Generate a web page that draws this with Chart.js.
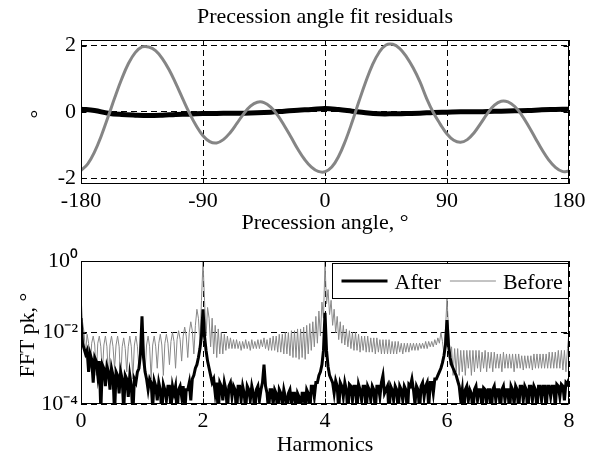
<!DOCTYPE html>
<html>
<head>
<meta charset="utf-8">
<script src="https://cdn.jsdelivr.net/npm/chart.js@4.4.0/dist/chart.umd.min.js"></script>
<style>
  html, body { margin: 0; padding: 0; background: #fff; }
  #fig { position: relative; width: 597px; height: 460px; background: #fff; overflow: hidden;
         font-family: 'Liberation Serif', 'Times New Roman', serif; font-size: 22px; color: #000; }
  #fig canvas { position: absolute; left: 0; }
  .lbl { position: absolute; line-height: 22px; white-space: nowrap; transform: translateX(-50%); }
  .vlbl { position: absolute; line-height: 22px; white-space: nowrap; transform: translate(-50%, -50%) rotate(-90deg); }
</style>
</head>
<body>
<div id="fig">
  <canvas id="resid" width="597" height="215" style="top:0"></canvas>
  <canvas id="fft" width="597" height="200" style="top:235px"></canvas>
  <div class="lbl" style="left:325px;top:5px">Precession angle fit residuals</div>
  <div class="lbl" style="left:325px;top:211px">Precession angle, °</div>
  <div class="vlbl" style="left:38px;top:114px">°</div>
  <div class="lbl" style="left:325px;top:433px">Harmonics</div>
  <div class="vlbl" style="left:27px;top:335px">FFT pk, °</div>
</div>
<script>
// ---- top panel: residuals vs precession angle (deg) ----
const angleFine = [-180,-175,-170,-165,-160,-155,-150,-145,-140,-135,-130,-125,-120,-115,-110,-105,-100,-95,-90,-85,
  -80,-75,-70,-65,-60,-55,-50,-45,-40,-35,-30,-25,-20,-15,-10,-5,0,5,10,15,20,25,30,35,40,45,50,55,60,65,
  70,75,80,85,90,95,100,105,110,115,120,125,130,135,140,145,150,155,160,165,170,175,180];
const residBefore = [-1.77,-1.57,-1.21,-0.72,-0.15,0.44,0.99,1.46,1.79,1.96,
  1.96,1.85,1.61,1.27,0.85,0.40,-0.04,-0.42,-0.72,-0.90,
  -0.94,-0.84,-0.63,-0.35,-0.06,0.17,0.29,0.28,0.14,-0.10,
  -0.42,-0.77,-1.13,-1.44,-1.67,-1.80,-1.81,-1.67,-1.35,-0.88,
  -0.31,0.31,0.90,1.42,1.80,2.02,2.04,1.92,1.67,1.33,
  0.91,0.40,-0.03,-0.37,-0.67,-0.86,-0.92,-0.84,-0.63,-0.34,
  -0.04,0.20,0.32,0.30,0.16,-0.09,-0.42,-0.78,-1.14,-1.45,
  -1.68,-1.80,-1.79];
const angleCoarse = [-180,-170,-160,-150,-140,-130,-120,-110,-100,-90,-80,-70,-60,-50,-40,-30,-20,-10,0,
  10,20,30,40,50,60,70,80,90,100,110,120,130,140,150,160,170,180];
const residAfter = [0.08,0.04,-0.04,-0.08,-0.10,-0.11,-0.10,-0.08,-0.07,-0.05,
  -0.05,-0.04,-0.04,-0.03,-0.01,0.02,0.05,0.07,0.10,0.07,
  0.02,-0.03,-0.06,-0.06,-0.05,-0.04,-0.02,-0.01,0.00,0.00,
  0.01,0.02,0.03,0.04,0.06,0.07,0.08];
const residXTicks = [-180, -90, 0, 90, 180];
const residYTicks = [-2, 0, 2];

// ---- bottom panel: FFT peak amplitude, log10 values, one per bin ----
const BIN = 0.025; // harmonic spacing of FFT bins
const fftBeforeLog = [
  -1.0,-1.7,-2.0,-2.6,-2.05,-2.3,-3.0,-2.3,-2.1,-2.35,-3.2,-2.3,-2.1,-2.4,-3.1,-2.35,-2.1,-2.4,-3.3,-2.35,
  -2.1,-2.4,-3.0,-2.35,-2.1,-2.4,-3.4,-2.4,-2.15,-2.45,-3.1,-2.4,-2.1,-2.4,-3.3,-2.35,-2.1,-2.4,-3.0,-2.3,
  -2.0,-2.35,-3.1,-2.35,-2.1,-2.4,-3.3,-2.35,-2.1,-2.4,-3.0,-2.3,-2.05,-2.35,-3.2,-2.3,-2.05,-2.3,-2.9,-2.25,
  -2.0,-2.25,-3.0,-2.2,-1.95,-2.2,-2.8,-2.1,-1.85,-2.1,-2.7,-2.0,-1.7,-1.95,-2.6,-1.8,-1.35,-1.6,-2.3,-1.1,
  0.0,-1.1,-2.1,-1.3,-1.6,-2.4,-1.6,-2.6,-1.8,-2.7,-1.9,-2.6,-2.0,-2.6,-2.05,-2.5,-2.1,-2.45,-2.15,-2.45,
  -2.2,-2.45,-2.2,-2.45,-2.25,-2.5,-2.25,-2.45,-2.2,-2.45,-2.25,-2.5,-2.2,-2.45,-2.25,-2.45,-2.2,-2.45,-2.2,-2.4,
  -2.15,-2.45,-2.2,-2.5,-2.15,-2.5,-2.1,-2.5,-2.1,-2.55,-2.05,-2.55,-2.05,-2.6,-2.0,-2.6,-2.0,-2.65,-1.95,-2.7,
  -1.95,-2.7,-1.9,-2.75,-1.9,-2.7,-1.85,-2.75,-1.8,-2.6,-1.75,-2.5,-1.7,-2.4,-1.55,-2.3,-1.4,-2.1,-1.15,-1.6,
  -0.03,-1.2,-0.8,-1.5,-1.1,-1.8,-1.35,-2.0,-1.55,-2.2,-1.7,-2.3,-1.8,-2.35,-1.9,-2.4,-1.95,-2.45,-2.0,-2.5,
  -2.0,-2.5,-2.05,-2.55,-2.1,-2.5,-2.1,-2.55,-2.1,-2.55,-2.15,-2.55,-2.15,-2.6,-2.15,-2.55,-2.2,-2.6,-2.2,-2.6,
  -2.2,-2.6,-2.2,-2.6,-2.25,-2.6,-2.25,-2.6,-2.25,-2.55,-2.3,-2.6,-2.3,-2.55,-2.3,-2.55,-2.3,-2.5,-2.3,-2.5,
  -2.3,-2.5,-2.3,-2.45,-2.3,-2.45,-2.25,-2.45,-2.25,-2.4,-2.25,-2.4,-2.2,-2.35,-2.15,-2.3,-2.0,-2.25,-2.6,-1.9,
  -1.05,-1.9,-2.9,-2.4,-3.2,-2.45,-3.1,-2.45,-3.2,-2.5,-3.1,-2.5,-3.2,-2.5,-3.0,-2.5,-3.2,-2.5,-3.1,-2.5,
  -3.0,-2.5,-3.1,-2.55,-3.0,-2.5,-3.1,-2.55,-3.0,-2.55,-3.1,-2.55,-3.0,-2.6,-3.0,-2.6,-3.1,-2.55,-3.0,-2.6,
  -3.0,-2.6,-3.0,-2.6,-3.1,-2.6,-3.0,-2.6,-3.0,-2.65,-3.05,-2.65,-3.0,-2.65,-3.0,-2.65,-3.05,-2.6,-3.0,-2.6,
  -3.0,-2.6,-3.0,-2.6,-3.0,-2.6,-3.0,-2.55,-3.0,-2.55,-3.0,-2.55,-3.0,-2.5,-3.0,-2.5,-3.05,-2.5,-3.1,-2.45,
  -2.0];
const fftAfterLog = [
  -1.6,-2.3,-2.45,-2.6,-2.5,-3.1,-2.6,-2.75,-3.4,-2.7,-2.8,-3.2,-2.8,-4.2,-2.9,-3.0,-3.5,-2.95,-3.1,-3.6,
  -3.0,-3.2,-4.3,-3.1,-3.2,-3.7,-3.1,-3.3,-4.2,-3.2,-3.3,-3.8,-3.2,-3.5,-4.3,-3.3,-3.4,-3.1,-3.0,-2.6,
  -1.55,-2.7,-3.1,-3.3,-3.6,-3.3,-3.4,-4.1,-3.35,-3.5,-3.9,-3.4,-3.6,-4.3,-3.45,-3.6,-3.9,-3.5,-3.5,-4.2,
  -3.5,-3.7,-3.5,-4.3,-3.6,-3.5,-3.8,-3.5,-4.3,-3.6,-3.6,-3.4,-3.9,-3.3,-3.2,-3.0,-2.9,-2.7,-2.45,-2.1,
  -1.35,-2.1,-2.5,-2.8,-3.0,-3.2,-3.4,-3.3,-3.7,-3.4,-4.3,-3.4,-3.5,-3.9,-3.4,-3.6,-4.2,-3.5,-3.4,-3.8,
  -3.5,-3.6,-4.3,-3.5,-3.5,-3.9,-3.5,-3.7,-4.2,-3.5,-3.6,-3.9,-3.5,-3.7,-4.3,-3.6,-3.5,-3.9,-3.6,-3.4,
  -2.9,-3.5,-3.7,-4.2,-3.6,-3.6,-4.0,-3.6,-3.7,-4.3,-3.6,-3.7,-4.0,-3.6,-3.8,-4.3,-3.7,-3.6,-4.0,-3.7,
  -3.7,-4.3,-3.7,-3.8,-4.2,-3.7,-3.7,-4.1,-3.6,-3.7,-4.3,-3.5,-3.5,-3.8,-3.4,-3.4,-3.2,-3.1,-2.9,-2.5,
  -1.45,-2.5,-2.95,-3.2,-3.3,-3.4,-3.7,-3.35,-3.5,-4.2,-3.4,-3.5,-3.8,-3.4,-3.6,-4.3,-3.45,-3.5,-3.9,-3.5,
  -3.5,-4.2,-3.45,-3.6,-3.9,-3.5,-3.5,-4.3,-3.5,-3.6,-3.9,-3.5,-3.6,-4.2,-3.5,-3.5,-3.8,-3.4,-3.2,-3.7,
  -3.6,-3.5,-4.3,-3.5,-3.6,-3.9,-3.5,-3.6,-4.2,-3.5,-3.6,-3.9,-3.5,-3.6,-4.3,-3.45,-3.5,-3.3,-3.6,-4.0,
  -3.5,-3.6,-4.2,-3.5,-3.4,-3.8,-3.5,-3.4,-4.1,-3.4,-3.4,-3.7,-3.3,-3.3,-3.2,-3.1,-3.0,-2.85,-2.65,-2.35,
  -1.65,-2.35,-2.7,-2.9,-3.0,-3.1,-3.2,-3.35,-3.5,-3.9,-3.6,-4.3,-3.6,-3.5,-3.9,-3.6,-3.7,-4.3,-3.6,-3.5,
  -3.9,-3.6,-3.6,-4.2,-3.55,-3.6,-4.0,-3.6,-3.6,-4.3,-3.6,-3.5,-3.9,-3.6,-3.6,-4.2,-3.6,-3.5,-3.9,-3.6,
  -3.6,-4.3,-3.5,-3.6,-4.0,-3.5,-3.6,-4.2,-3.5,-3.5,-3.9,-3.5,-3.6,-4.3,-3.5,-3.5,-3.9,-3.5,-3.6,-4.2,
  -3.5,-3.5,-3.9,-3.5,-3.5,-4.2,-3.5,-3.5,-3.8,-3.5,-3.5,-4.1,-3.45,-3.5,-3.8,-3.45,-3.5,-3.9,-3.4,-3.45,
  -3.3];
const fftXTicks = [0, 2, 4, 6, 8];
const fftYTicks = [1e-4, 1e-2, 1];
const fftYTickLabels = ['10⁻⁴', '10⁻²', '10⁰'];
const seriesNames = ['After', 'Before'];

const FONT = "'Liberation Serif', 'Times New Roman', serif";
Chart.defaults.font.family = FONT;
Chart.defaults.font.size = 22;
Chart.defaults.color = '#000';

const toBins = logs => logs.map((v, i) => ({ x: i * BIN, y: Math.pow(10, v) }));
const pairs = (xs, ys) => xs.map((x, i) => ({ x, y: ys[i] }));
const setTicks = list => scale => { scale.ticks = list.map(v => ({ value: v })); };

// box around the plot area + short inward ticks, as in the original figure
const frame = {
  id: 'frame',
  afterDatasetsDraw(chart) {
    const { ctx, chartArea: a, scales } = chart;
    const L = Math.round(a.left) + 0.5, R = Math.round(a.right) - 0.5;
    const T = Math.round(a.top) + 0.5, B = Math.round(a.bottom) - 0.5;
    ctx.save();
    ctx.strokeStyle = '#000';
    ctx.lineWidth = 1;
    ctx.beginPath();
    scales.x.ticks.forEach(t => {
      const px = Math.round(scales.x.getPixelForValue(t.value)) + 0.5;
      ctx.moveTo(px, B); ctx.lineTo(px, B - 5);
      ctx.moveTo(px, T); ctx.lineTo(px, T + 5);
    });
    scales.y.ticks.forEach(t => {
      const py = Math.round(scales.y.getPixelForValue(t.value)) + 0.5;
      ctx.moveTo(L, py); ctx.lineTo(L + 5, py);
      ctx.moveTo(R, py); ctx.lineTo(R - 5, py);
    });
    ctx.stroke();
    ctx.strokeRect(L, T, R - L, B - T);
    ctx.restore();
  }
};

// boxed legend in the upper right corner of the FFT panel
const legendBox = {
  id: 'legendBox',
  afterDraw(chart) {
    const { ctx, chartArea: a } = chart;
    const w = 236, h = 35;
    const x0 = Math.round(a.right) - 0.5 - w, y0 = Math.round(a.top) + 2.5;
    ctx.save();
    ctx.fillStyle = '#fff';
    ctx.fillRect(x0, y0, w, h);
    ctx.strokeStyle = '#000';
    ctx.lineWidth = 1;
    ctx.strokeRect(x0, y0, w, h);
    ctx.font = '22px ' + FONT;
    ctx.fillStyle = '#000';
    ctx.textBaseline = 'alphabetic';
    let x = x0 + 9;
    const ym = y0 + h / 2;
    chart.data.datasets.forEach(ds => {
      ctx.strokeStyle = ds.borderColor;
      ctx.lineWidth = ds.borderWidth;
      ctx.beginPath();
      ctx.moveTo(x, ym); ctx.lineTo(x + 46, ym);
      ctx.stroke();
      ctx.fillText(ds.label, x + 53, ym + 7.5);
      x += 53 + ctx.measureText(ds.label).width + 9;
    });
    ctx.restore();
  }
};

const dashedGrid = { color: '#000', lineWidth: 1, drawTicks: false };
const gridBorder = { display: false, dash: [6, 4] };

new Chart(document.getElementById('resid'), {
  type: 'line',
  data: {
    datasets: [
      { label: 'Before', data: pairs(angleFine, residBefore), borderColor: '#858585', borderWidth: 3,
        pointRadius: 0, tension: 0.4, fill: false },
      { label: 'After', data: pairs(angleCoarse, residAfter), borderColor: '#000', borderWidth: 5,
        pointRadius: 0, tension: 0.4, fill: false }
    ]
  },
  options: {
    responsive: false, animation: false,
    layout: { padding: { top: 40, right: 28, left: 0, bottom: 0 } },
    plugins: { legend: { display: false }, tooltip: { enabled: false } },
    scales: {
      x: { type: 'linear', min: -180, max: 180, afterBuildTicks: setTicks(residXTicks),
           afterFit: s => { s.height = 31; },
           ticks: { padding: 4, maxRotation: 0, autoSkip: false, callback: v => String(v) },
           grid: dashedGrid, border: gridBorder },
      y: { type: 'linear', min: -2.18, max: 2.17, afterBuildTicks: setTicks(residYTicks),
           afterFit: s => { s.width = 81; },
           ticks: { padding: 5, callback: v => String(v) },
           grid: dashedGrid, border: gridBorder }
    }
  },
  plugins: [frame]
});

new Chart(document.getElementById('fft'), {
  type: 'line',
  data: {
    datasets: [
      { label: seriesNames[0], data: toBins(fftAfterLog), borderColor: '#000', borderWidth: 3,
        pointRadius: 0, tension: 0, fill: false },
      { label: seriesNames[1], data: toBins(fftBeforeLog), borderColor: '#888', borderWidth: 1,
        pointRadius: 0, tension: 0, fill: false }
    ]
  },
  options: {
    responsive: false, animation: false,
    layout: { padding: { top: 26, right: 28, left: 0, bottom: 0 } },
    plugins: { legend: { display: false }, tooltip: { enabled: false } },
    scales: {
      x: { type: 'linear', min: 0, max: 8, afterBuildTicks: setTicks(fftXTicks),
           afterFit: s => { s.height = 31; },
           ticks: { padding: 4, maxRotation: 0, autoSkip: false, callback: v => String(v) },
           grid: dashedGrid, border: gridBorder },
      y: { type: 'logarithmic', min: 1e-4, max: 1, afterBuildTicks: setTicks(fftYTicks),
           afterFit: s => { s.width = 81; },
           ticks: { padding: 3, callback: v => fftYTickLabels[fftYTicks.indexOf(v)] },
           grid: dashedGrid, border: gridBorder }
    }
  },
  plugins: [frame, legendBox]
});
</script>
</body>
</html>
